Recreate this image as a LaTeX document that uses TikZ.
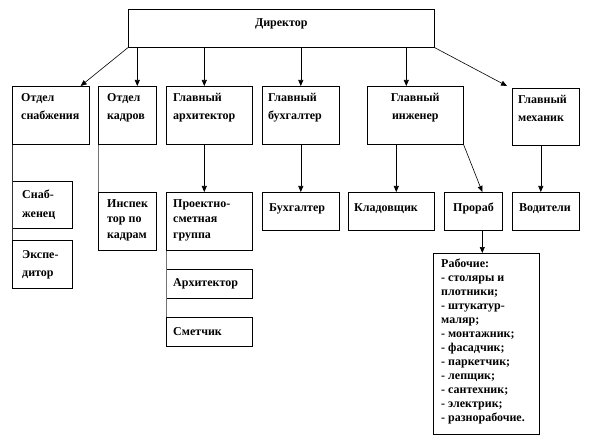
\documentclass[tikz,border=0pt]{standalone}
\usepackage{fontspec}
\setmainfont{Liberation Serif}
\usetikzlibrary{positioning,arrows.meta}

\begin{document}
\begin{tikzpicture}[
      x=1pt, y=-1pt,
      >={Triangle[length=6pt,width=5pt]},
      box/.style={draw, line width=0.6pt, anchor=north west, inner sep=0pt},
      txt/.style={font=\bfseries\fontsize{12}{18.5}\selectfont, align=left, anchor=north west, inner sep=0pt},
      subtxt/.style={txt, font=\bfseries\fontsize{12}{15.5}\selectfont},
      listtxt/.style={txt, font=\bfseries\fontsize{12}{14}\selectfont},
      arr/.style={->, line width=0.6pt},
      tie/.style={line width=0.6pt, draw=black!55}
    ]
      \useasboundingbox (0,0) rectangle (591,438);

      % top level
      \node[box, minimum width=306pt, minimum height=38pt] (dir) at (128,9) {};
      \node[txt, anchor=north] at ([yshift=-9pt]dir.north) {Директор};

      % second level
      \node[box, minimum width=77pt, minimum height=58pt] (snab) at (12,86) {};
      \node[box, minimum width=58pt, minimum height=58pt] (kadr) at (98,86) {};
      \node[box, minimum width=86pt, minimum height=58pt] (arch) at (166,86) {};
      \node[box, minimum width=77pt, minimum height=58pt] (buh) at (262,86) {};
      \node[box, minimum width=96pt, minimum height=58pt] (eng) at (367,86) {};
      \node[box, minimum width=67pt, minimum height=57pt] (mech) at (512,88) {};

      \node[txt] at ([shift={(9pt,-7pt)}]snab.north west) {Отдел\\снабжения};
      \node[txt] at ([shift={(9pt,-7pt)}]kadr.north west) {Отдел\\кадров};
      \node[txt] at ([shift={(7pt,-7pt)}]arch.north west) {Главный\\архитектор};
      \node[txt] at ([shift={(6pt,-7pt)}]buh.north west) {Главный\\бухгалтер};
      \node[txt, align=center, anchor=north] at ([yshift=-7pt]eng.north) {Главный\\инженер};
      \node[txt] at ([shift={(6pt,-7pt)}]mech.north west) {Главный\\механик};

      % third level
      \node[box, minimum width=60pt, minimum height=47pt] (snabzh) at (12,181) {};
      \node[box, minimum width=60pt, minimum height=48pt] (eksp) at (12,240) {};
      \node[box, minimum width=58pt, minimum height=58pt] (insp) at (98,192) {};
      \node[box, minimum width=86pt, minimum height=58pt] (proekt) at (166,192) {};
      \node[box, minimum width=86pt, minimum height=29pt] (arkh) at (166,269) {};
      \node[box, minimum width=86pt, minimum height=29pt] (smet) at (166,317) {};
      \node[box, minimum width=77pt, minimum height=38pt] (buhg) at (262,192) {};
      \node[box, minimum width=86pt, minimum height=38pt] (klad) at (348,192) {};
      \node[box, minimum width=58pt, minimum height=38pt] (prorab) at (444,192) {};
      \node[box, minimum width=67pt, minimum height=38pt] (vod) at (512,192) {};
      \node[box, minimum width=106pt, minimum height=181pt] (rab) at (433,253) {};

      \node[txt] at ([shift={(10pt,-9pt)}]snabzh.north west) {Снаб-\\женец};
      \node[txt] at ([shift={(10pt,-10pt)}]eksp.north west) {Экспе-\\дитор};
      \node[subtxt] at ([shift={(9pt,-7pt)}]insp.north west) {Инспек\\тор по\\кадрам};
      \node[subtxt] at ([shift={(7pt,-7pt)}]proekt.north west) {Проектно-\\сметная\\группа};
      \node[txt, anchor=west] at ([xshift=7pt]arkh.west) {Архитектор};
      \node[txt, anchor=west] at ([xshift=7pt]smet.west) {Сметчик};
      \node[txt] at ([shift={(7pt,-11pt)}]buhg.north west) {Бухгалтер};
      \node[txt] at ([shift={(6pt,-11pt)}]klad.north west) {Кладовщик};
      \node[txt] at ([shift={(9pt,-11pt)}]prorab.north west) {Прораб};
      \node[txt] at ([shift={(7pt,-11pt)}]vod.north west) {Водители};
      \node[listtxt] at ([shift={(8pt,-6pt)}]rab.north west) {Рабочие:\\- столяры и\\плотники;\\- штукатур-\\маляр;\\- монтажник;\\- фасадчик;\\- паркетчик;\\- лепщик;\\- сантехник;\\- электрик;\\- разнорабочие.};

      % connectors
      \draw[arr] (dir.south west) -- ([xshift=-9pt]snab.north east);
      \draw[arr] ([xshift=10pt]kadr.north |- dir.south) -- ([xshift=10pt]kadr.north);
      \draw[arr] ([xshift=-5pt]arch.north |- dir.south) -- ([xshift=-5pt]arch.north);
      \draw[arr] (buh.north |- dir.south) -- (buh.north);
      \draw[arr] ([xshift=-9pt]eng.north |- dir.south) -- ([xshift=-9pt]eng.north);
      \draw[arr] (dir.south east) -- ([shift={(-5pt,2pt)}]mech.north west);

      \draw[tie, draw=black!80] (snab.south west) -- (eksp.north west);
      \draw[tie] (kadr.south west) -- (insp.north west);
      \draw[arr] ([xshift=-5pt]arch.south) -- ([xshift=-5pt]proekt.north);
      \draw[tie] (proekt.south west) -- (smet.north west);
      \draw[arr] (buh.south) -- (buhg.north);
      \draw[arr] ([xshift=5pt]klad.north |- eng.south) -- ([xshift=5pt]klad.north);
      \draw[arr] (eng.south east) -- ([xshift=9pt]prorab.north);
      \draw[arr] ([xshift=-5pt]mech.south) -- ([xshift=-5pt]vod.north);
      \draw[arr] ([xshift=9pt]prorab.south) -- ([xshift=9pt]prorab.south |- rab.north);
    \end{tikzpicture}
\end{document}
